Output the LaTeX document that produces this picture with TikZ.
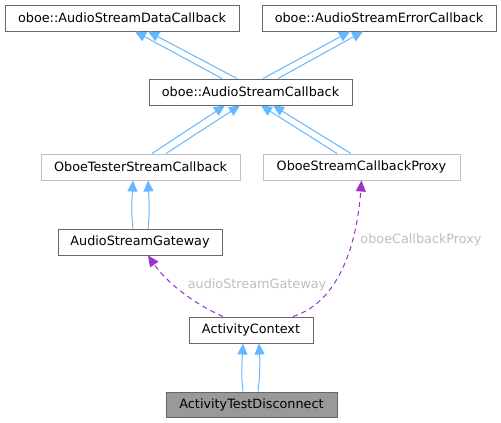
\documentclass[tikz,border=0pt]{standalone}
\usepackage{fontspec}
\setmainfont{DejaVu Sans}
\usetikzlibrary{arrows.meta}
\definecolor{inh}{HTML}{63B8FF}
\definecolor{usecol}{HTML}{9A32CD}
\definecolor{bdark}{HTML}{666666}
\definecolor{blight}{HTML}{BFBFBF}
\definecolor{lbl}{HTML}{BFBFBF}
\definecolor{cur}{HTML}{999999}
\begin{document}
\begin{tikzpicture}[x=1pt,y=-1pt,
  cls/.style={draw=bdark, line width=1pt, fill=white, inner sep=0pt, minimum height=26pt,
    font=\fontsize{12.8}{15}\selectfont, text=black},
  clslight/.style={cls, draw=blight},
  clscur/.style={cls, fill=cur},
  inhedge/.style={draw=inh, line width=1pt, -{Triangle[length=11pt,width=10pt]}},
  useedge/.style={draw=usecol, line width=1pt, dash pattern=on 5pt off 4pt,
    -{Triangle[length=11pt,width=10pt]}},
  elabel/.style={text=lbl, font=\fontsize{12.8}{15}\selectfont, inner sep=0pt}]
\useasboundingbox (0,0) rectangle (501,423);
\fill[white] (0,0) rectangle (501,423);

\node[cls, minimum width=234pt] (dcb) at (122,18) {oboe::AudioStreamDataCallback};
\node[cls, minimum width=234pt] (ecb) at (379,18) {oboe::AudioStreamErrorCallback};
\node[cls, minimum width=203pt] (asc) at (250.5,92) {oboe::AudioStreamCallback};
\node[clslight, minimum width=199pt] (otsc) at (140.5,167) {OboeTesterStreamCallback};
\node[clslight, minimum width=197pt] (oscp) at (361.5,167) {OboeStreamCallbackProxy};
\node[cls, minimum width=164pt] (asg) at (140,242) {AudioStreamGateway};
\node[cls, minimum width=124pt] (ac) at (251,330) {ActivityContext};
\node[clscur, minimum width=171pt, minimum height=25pt] (atd) at (251.5,404.5) {ActivityTestDisconnect};

% asc -> dcb / ecb
\draw[inhedge] ([xshift=-28.5pt]asc.north) -- ([xshift=13pt]dcb.south);
\draw[inhedge] ([xshift=-13.5pt]asc.north) -- ([xshift=26pt]dcb.south);
\draw[inhedge] ([xshift=12.5pt]asc.north) -- ([xshift=-29pt]ecb.south);
\draw[inhedge] ([xshift=27.5pt]asc.north) -- ([xshift=-16pt]ecb.south);

% otsc / oscp -> asc
\draw[inhedge] ([xshift=11.5pt]otsc.north) -- ([xshift=-25.5pt]asc.south);
\draw[inhedge] ([xshift=25.5pt]otsc.north) -- ([xshift=-10.5pt]asc.south);
\draw[inhedge] ([xshift=-24.5pt]oscp.north) -- ([xshift=10.5pt]asc.south);
\draw[inhedge] ([xshift=-10.5pt]oscp.north) -- ([xshift=22.5pt]asc.south);

% asg -> otsc
\draw[inhedge] ([xshift=-7pt]asg.north) .. controls +(-2,-16) and +(-1,18) .. ([xshift=-7.5pt]otsc.south);
\draw[inhedge] ([xshift=8pt]asg.north) .. controls +(2,-16) and +(1,18) .. ([xshift=7.5pt]otsc.south);

% atd -> ac
\draw[inhedge] ([xshift=-8.5pt]atd.north) .. controls +(-2,-16) and +(-1,18) .. ([xshift=-8pt]ac.south);
\draw[inhedge] ([xshift=6.5pt]atd.north) .. controls +(2,-16) and +(1,18) .. ([xshift=8pt]ac.south);

% usage edges
\draw[useedge] ([xshift=-28pt]ac.north) .. controls (190,302) and (165,280) .. ([xshift=8pt]asg.south);
\draw[useedge] ([xshift=42pt]ac.north) .. controls (345,300) and (358,230) .. (oscp.south);

\node[elabel] (l1) at (257,285) {audioStreamGateway};
\node[elabel] (l2) at (421,240) {oboeCallbackProxy};
\end{tikzpicture}
\end{document}
